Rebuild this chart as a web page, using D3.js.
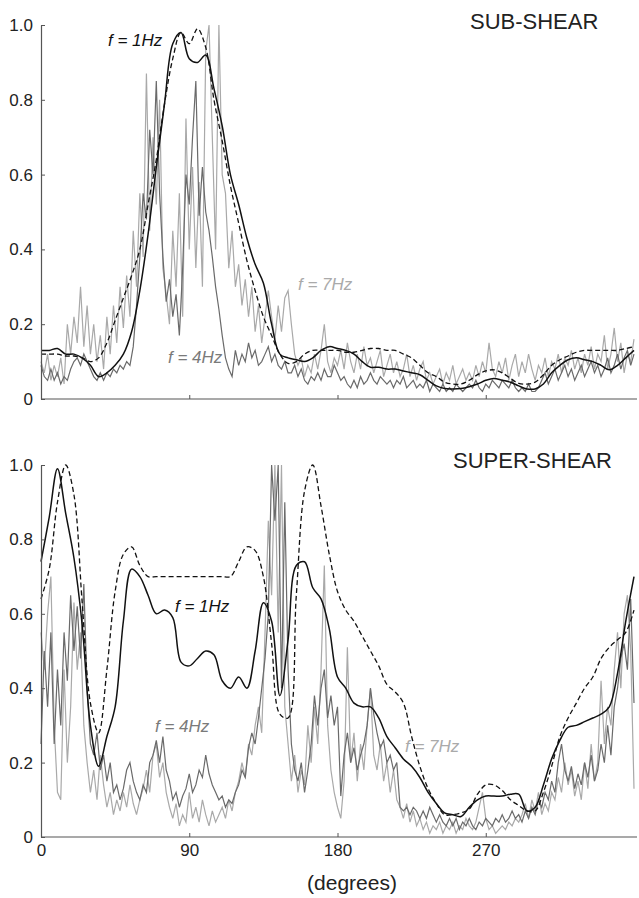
<!DOCTYPE html>
<html>
<head>
<meta charset="utf-8">
<script src="https://cdn.jsdelivr.net/npm/d3@7"></script>
<style>
  body { margin: 0; background: #fff; }
  svg text { font-family: "Liberation Sans", Arial, sans-serif; }
</style>
</head>
<body>
<div class="chart"></div>
<script>
// angle grid (degrees) of the two kinds of series
const smoothStep = 5;   // f = 1Hz and dashed curves
const noisyStep = 2;    // f = 4Hz and f = 7Hz curves

const xTicks = [0, 90, 180, 270];
const yTicks = [0, 0.2, 0.4, 0.6, 0.8, 1.0];

// ---- SUB-SHEAR ----
const subRef = [0.12,0.12,0.12,0.115,0.115,0.11,0.10,0.11,0.15,0.21,0.27,0.33,0.40,0.52,0.64,0.79,0.91,0.98,0.95,0.99,
  0.94,0.80,0.69,0.57,0.47,0.37,0.29,0.22,0.17,0.12,0.095,0.10,0.12,0.13,0.13,0.13,0.13,0.125,0.125,0.13,
  0.135,0.135,0.13,0.13,0.12,0.11,0.09,0.07,0.06,0.045,0.04,0.04,0.05,0.065,0.075,0.078,0.07,0.055,0.042,0.04,
  0.045,0.065,0.09,0.105,0.115,0.125,0.13,0.13,0.13,0.13,0.13,0.135,0.14];

const subF1 = [0.13,0.13,0.135,0.12,0.12,0.11,0.09,0.06,0.07,0.09,0.12,0.18,0.29,0.44,0.62,0.79,0.95,0.98,0.91,0.90,
  0.92,0.83,0.73,0.60,0.52,0.43,0.36,0.31,0.20,0.12,0.11,0.105,0.10,0.11,0.13,0.14,0.135,0.13,0.12,0.10,
  0.085,0.085,0.08,0.08,0.075,0.07,0.065,0.05,0.035,0.028,0.027,0.028,0.033,0.04,0.05,0.055,0.05,0.045,0.035,0.027,
  0.027,0.04,0.07,0.09,0.105,0.11,0.105,0.10,0.09,0.078,0.09,0.11,0.13];

const subF4 = [0.09,0.06,0.05,0.08,0.05,0.07,0.04,0.06,0.05,0.08,
  0.10,0.11,0.09,0.12,0.10,0.08,0.06,0.05,0.07,0.05,
  0.07,0.06,0.08,0.07,0.09,0.08,0.10,0.09,0.14,0.25,
  0.38,0.55,0.48,0.72,0.60,0.85,0.55,0.38,0.26,0.32,
  0.22,0.28,0.17,0.35,0.60,0.52,0.70,0.85,0.49,0.62,
  0.50,0.45,0.38,0.30,0.24,0.17,0.11,0.08,0.06,0.13,
  0.09,0.12,0.10,0.15,0.11,0.13,0.09,0.10,0.12,0.14,
  0.10,0.12,0.09,0.08,0.10,0.07,0.07,0.09,0.06,0.08,
  0.05,0.04,0.06,0.05,0.07,0.05,0.08,0.06,0.06,0.09,
  0.07,0.05,0.06,0.04,0.03,0.05,0.03,0.06,0.04,0.05,
  0.07,0.05,0.04,0.06,0.05,0.04,0.05,0.03,0.05,0.04,
  0.06,0.03,0.04,0.05,0.03,0.04,0.03,0.05,0.02,0.04,
  0.03,0.02,0.04,0.02,0.03,0.02,0.04,0.03,0.02,0.03,
  0.04,0.03,0.05,0.03,0.02,0.04,0.03,0.05,0.04,0.03,
  0.05,0.04,0.03,0.05,0.03,0.02,0.03,0.02,0.04,0.02,
  0.02,0.03,0.05,0.07,0.04,0.06,0.08,0.05,0.07,0.09,
  0.06,0.08,0.05,0.07,0.09,0.06,0.08,0.10,0.07,0.09,
  0.06,0.08,0.11,0.07,0.09,0.12,0.08,0.11,0.13,0.09,
  0.12];

const subF7 = [0.10,0.07,0.12,0.05,0.09,0.06,0.11,0.04,0.20,0.12,
  0.22,0.15,0.30,0.14,0.25,0.12,0.20,0.10,0.17,0.08,
  0.22,0.12,0.25,0.15,0.30,0.19,0.33,0.22,0.45,0.30,
  0.55,0.38,0.87,0.45,0.70,0.52,0.80,0.35,0.28,0.20,
  0.45,0.30,0.55,0.22,0.75,0.40,0.62,0.35,0.58,0.30,
  0.93,1.00,0.70,0.40,1.00,0.60,0.55,0.35,0.45,0.30,
  0.36,0.25,0.32,0.22,0.30,0.18,0.25,0.15,0.22,0.29,
  0.22,0.16,0.25,0.18,0.27,0.29,0.20,0.12,0.09,0.11,
  0.06,0.09,0.07,0.12,0.08,0.13,0.20,0.10,0.07,0.11,
  0.09,0.13,0.08,0.15,0.10,0.07,0.12,0.08,0.14,0.09,
  0.11,0.07,0.10,0.13,0.06,0.09,0.12,0.07,0.10,0.06,
  0.08,0.12,0.06,0.09,0.05,0.08,0.10,0.05,0.07,0.04,
  0.06,0.08,0.04,0.07,0.05,0.09,0.04,0.06,0.08,0.05,
  0.07,0.05,0.09,0.06,0.10,0.07,0.15,0.08,0.06,0.10,
  0.07,0.11,0.05,0.09,0.12,0.06,0.10,0.07,0.12,0.08,
  0.05,0.09,0.07,0.11,0.06,0.10,0.08,0.12,0.07,0.11,
  0.09,0.13,0.08,0.11,0.07,0.12,0.09,0.14,0.08,0.12,
  0.10,0.17,0.08,0.12,0.19,0.10,0.15,0.07,0.12,0.10,
  0.16];

// ---- SUPER-SHEAR ----
const superRef = [0.64,0.72,0.90,1.00,0.92,0.63,0.36,0.28,0.45,0.66,0.76,0.78,0.73,0.70,0.70,0.70,0.70,0.70,0.70,0.70,
  0.70,0.70,0.70,0.70,0.74,0.78,0.77,0.70,0.52,0.33,0.32,0.65,0.93,1.00,0.89,0.76,0.66,0.61,0.58,0.54,
  0.50,0.46,0.41,0.39,0.36,0.27,0.19,0.13,0.09,0.06,0.06,0.065,0.075,0.115,0.14,0.14,0.125,0.10,0.085,0.07,
  0.07,0.12,0.19,0.27,0.32,0.36,0.40,0.43,0.48,0.51,0.53,0.55,0.61];

const superF1 = [0.74,0.86,0.99,0.87,0.75,0.57,0.30,0.19,0.27,0.35,0.58,0.72,0.70,0.65,0.60,0.61,0.59,0.47,0.46,0.48,
  0.50,0.49,0.42,0.40,0.43,0.40,0.50,0.63,0.58,0.38,0.53,0.73,0.74,0.67,0.64,0.56,0.43,0.40,0.36,0.35,
  0.35,0.32,0.27,0.24,0.21,0.19,0.16,0.12,0.09,0.065,0.06,0.055,0.08,0.10,0.11,0.11,0.11,0.115,0.115,0.07,
  0.08,0.14,0.21,0.26,0.295,0.30,0.31,0.32,0.33,0.35,0.44,0.58,0.70];

const superF4 = [0.25,0.50,0.35,0.55,0.25,0.45,0.30,0.55,0.42,0.65,
  0.50,0.62,0.48,0.68,0.40,0.25,0.22,0.28,0.18,0.22,
  0.15,0.20,0.12,0.14,0.10,0.13,0.18,0.20,0.15,0.12,
  0.10,0.14,0.12,0.20,0.22,0.26,0.20,0.27,0.18,0.15,
  0.10,0.12,0.08,0.11,0.13,0.17,0.12,0.14,0.18,0.16,
  0.22,0.17,0.14,0.12,0.10,0.11,0.08,0.10,0.09,0.12,
  0.14,0.18,0.16,0.24,0.28,0.25,0.32,0.40,0.48,0.60,
  1.00,0.85,1.00,0.40,0.90,0.45,0.25,0.18,0.15,0.20,
  0.12,0.18,0.25,0.38,0.30,0.40,0.45,0.32,0.38,0.30,
  0.35,0.11,0.22,0.28,0.20,0.24,0.18,0.22,0.25,0.30,
  0.40,0.33,0.28,0.24,0.26,0.20,0.22,0.18,0.20,0.08,
  0.07,0.08,0.06,0.08,0.07,0.05,0.07,0.05,0.08,0.06,
  0.04,0.06,0.04,0.03,0.05,0.03,0.05,0.02,0.04,0.03,
  0.05,0.03,0.02,0.04,0.03,0.05,0.04,0.03,0.05,0.04,
  0.06,0.04,0.05,0.07,0.05,0.06,0.04,0.07,0.05,0.08,
  0.06,0.10,0.08,0.12,0.10,0.15,0.12,0.20,0.25,0.18,
  0.15,0.19,0.13,0.17,0.14,0.20,0.16,0.22,0.15,0.18,
  0.25,0.20,0.30,0.22,0.35,0.40,0.48,0.52,0.45,0.64,
  0.36];

const superF7 = [0.55,0.45,0.60,0.70,0.30,0.12,0.10,0.45,0.20,0.35,
  0.63,0.45,0.55,0.30,0.20,0.12,0.18,0.10,0.22,0.14,
  0.08,0.12,0.06,0.10,0.07,0.12,0.08,0.14,0.09,0.06,
  0.10,0.13,0.18,0.12,0.22,0.25,0.16,0.20,0.12,0.08,
  0.05,0.09,0.03,0.06,0.04,0.12,0.05,0.08,0.04,0.10,
  0.06,0.03,0.07,0.04,0.06,0.08,0.05,0.10,0.07,0.12,
  0.15,0.20,0.16,0.25,0.22,0.30,0.35,0.28,0.55,0.85,
  0.65,1.00,0.55,1.00,0.35,0.25,0.15,0.22,0.12,0.18,
  0.14,0.30,0.20,0.35,0.25,0.45,0.73,0.30,0.18,0.12,
  0.08,0.05,0.15,0.51,0.20,0.28,0.15,0.25,0.18,0.30,
  0.40,0.22,0.18,0.25,0.15,0.20,0.12,0.18,0.10,0.08,
  0.05,0.09,0.04,0.07,0.03,0.05,0.02,0.04,0.01,0.03,
  0.02,0.04,0.01,0.03,0.02,0.04,0.01,0.03,0.02,0.05,
  0.03,0.02,0.04,0.08,0.12,0.05,0.02,0.03,0.01,0.02,
  0.03,0.02,0.04,0.03,0.05,0.04,0.06,0.09,0.05,0.10,
  0.07,0.12,0.06,0.09,0.07,0.12,0.10,0.16,0.12,0.20,
  0.14,0.18,0.11,0.15,0.10,0.20,0.13,0.25,0.15,0.20,
  0.42,0.25,0.35,0.30,0.45,0.55,0.40,0.60,0.65,0.50,
  0.13];

function drawChart(){
    const width = 639, height = 898;

    const svg = d3.select('.chart').append('svg')
        .attr("width", width)
        .attr("height", height);

    const xScale = d3.scaleLinear()
        .domain([0, 360])
        .range([41, 634]);

    const panels = [
        {title: "SUB-SHEAR", top: 25, bottom: 399, ref: subRef, f1: subF1, f4: subF4, f7: subF7,
         titleX: 470, titleY: 29,
         labels: [{t: "f = 1Hz", x: 108, y: 46, c: "#111"},
                  {t: "f = 4Hz", x: 168, y: 363, c: "#7a7a7a"},
                  {t: "f = 7Hz", x: 298, y: 290, c: "#aaaaaa"}]},
        {title: "SUPER-SHEAR", top: 465, bottom: 837, ref: superRef, f1: superF1, f4: superF4, f7: superF7,
         titleX: 453, titleY: 468,
         labels: [{t: "f = 1Hz", x: 175, y: 612, c: "#111"},
                  {t: "f = 4Hz", x: 155, y: 732, c: "#7a7a7a"},
                  {t: "f = 7Hz", x: 405, y: 752, c: "#aaaaaa"}]}
    ];

    panels.forEach((p, k) => {
        const yScale = d3.scaleLinear()
            .domain([0, 1])
            .range([p.bottom, p.top]);

        const g = svg.append("g");

        const noisyLine = d3.line()
            .x((d, i) => xScale(i * noisyStep))
            .y(d => yScale(d));

        const smoothLine = d3.line()
            .x((d, i) => xScale(i * smoothStep))
            .y(d => yScale(d))
            .curve(d3.curveCatmullRom.alpha(0.5));

        g.append("path").datum(p.f7)
            .attr("d", noisyLine)
            .attr("fill", "none")
            .attr("stroke", "#a9a9a9")
            .attr("stroke-width", 1.2);

        g.append("path").datum(p.f4)
            .attr("d", noisyLine)
            .attr("fill", "none")
            .attr("stroke", "#6a6a6a")
            .attr("stroke-width", 1.2);

        g.append("path").datum(p.ref)
            .attr("d", smoothLine)
            .attr("fill", "none")
            .attr("stroke", "#111")
            .attr("stroke-width", 1.3)
            .attr("stroke-dasharray", "5,3");

        g.append("path").datum(p.f1)
            .attr("d", smoothLine)
            .attr("fill", "none")
            .attr("stroke", "#111")
            .attr("stroke-width", 1.5);

        // axes
        const yAxis = d3.axisLeft(yScale)
            .tickValues(yTicks)
            .tickSizeInner(-4)
            .tickSizeOuter(0)
            .tickPadding(8)
            .tickFormat(d => d === 0 ? "0" : d3.format(".1f")(d));

        const xAxis = d3.axisBottom(xScale)
            .tickValues(xTicks)
            .tickSizeInner(-4)
            .tickSizeOuter(0)
            .tickPadding(7)
            .tickFormat(k === 1 ? d3.format("d") : "");

        const ya = svg.append("g")
            .attr("class", "axis y-axis")
            .attr("transform", "translate(41,0)")
            .call(yAxis);

        const xa = svg.append("g")
            .attr("class", "axis x-axis")
            .attr("transform", `translate(0, ${p.bottom})`)
            .call(xAxis);

        xa.select(".domain").attr("d", `M41,0H637`);

        [ya, xa].forEach(a => {
            a.select(".domain").attr("stroke", "#555").attr("stroke-width", 1.2);
            a.selectAll(".tick line").attr("stroke", "#555");
            a.selectAll(".tick text")
                .style("font-size", "17px")
                .attr("fill", "#222");
        });

        svg.append("text")
            .attr("x", p.titleX)
            .attr("y", p.titleY)
            .text(p.title)
            .style("font-size", "22px")
            .attr("fill", "#222");

        svg.selectAll(".lab" + k)
            .data(p.labels)
            .enter()
            .append("text")
            .attr("x", d => d.x)
            .attr("y", d => d.y)
            .text(d => d.t)
            .style("font-size", "17px")
            .style("font-style", "italic")
            .attr("fill", d => d.c);
    });

    svg.append("text")
        .attr("x", 352)
        .attr("y", 890)
        .attr("text-anchor", "middle")
        .text("(degrees)")
        .style("font-size", "21px")
        .attr("fill", "#222");
}

drawChart();
</script>
</body>
</html>
